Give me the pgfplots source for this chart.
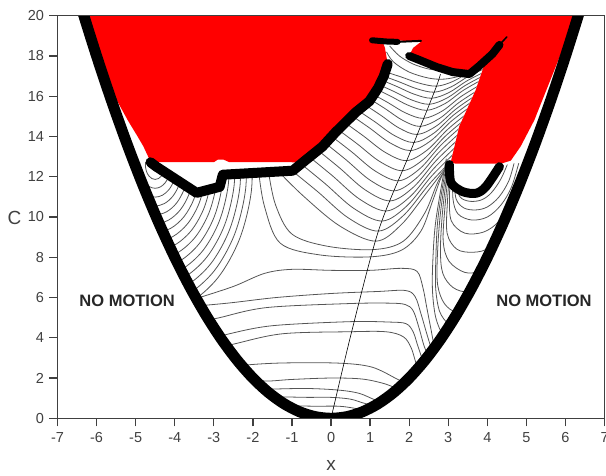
\documentclass[border=0pt]{standalone}
\usepackage{fontspec}
\setmainfont{Liberation Sans}
\usepackage{pgfplots}
\pgfplotsset{compat=1.18}
\definecolor{axgray}{HTML}{404040}
\definecolor{cgray}{HTML}{555555}
\pgfplotsset{
  cl/.style={no marks, smooth, tension=0.55, draw=cgray, line width=0.8pt},
  thk/.style={no marks, draw=black, line join=round, line cap=round},
}
\begin{document}
\begin{tikzpicture}
\begin{axis}[
  at={(0,0)}, anchor=south west,
  scale only axis, width=547.1pt, height=402.6pt,
  xmin=-7, xmax=7, ymin=0, ymax=20,
  axis on top,
  tick pos=left, tick align=outside, major tick length=8pt,
  xtick={-7,-6,-5,-4,-3,-2,-1,0,1,2,3,4,5,6,7},
  xticklabels={-7,-6,-5,-4,-3,-2,-1,0,1,2,3,4,5,6,7},
  ytick={0,2,4,6,8,10,12,14,16,18,20},
  yticklabels={0,2,4,6,8,10,12,14,16,18,20},
  ticklabel style={font=\fontsize{14.5}{16}\selectfont, text=axgray},
  xticklabel style={yshift=-3pt},
  yticklabel style={xshift=-2pt},
  axis line style={draw=axgray, line width=1.3pt},
  every tick/.style={draw=axgray, line width=1.3pt},
]
% ---------- left lobe ----------
\addplot[cl] coordinates {(-4.254,12.728) (-4.254,12.472) (-4.283,12.234) (-4.339,12.039) (-4.414,11.911) (-4.5,11.867) (-4.586,11.911) (-4.661,12.039) (-4.717,12.234) (-4.746,12.472) (-4.746,12.728)};
\addplot[cl] coordinates {(-4.106,12.804) (-4.106,12.396) (-4.154,12.014) (-4.243,11.702) (-4.363,11.498) (-4.5,11.428) (-4.637,11.498) (-4.757,11.702) (-4.846,12.014) (-4.894,12.396) (-4.894,12.804)};
\addplot[cl] coordinates {(-3.958,12.88) (-3.958,12.32) (-4.024,11.794) (-4.146,11.365) (-4.312,11.085) (-4.5,10.988) (-4.688,11.085) (-4.854,11.365) (-4.976,11.794)};
\addplot[cl] coordinates {(-3.81,12.957) (-3.81,12.243) (-3.894,11.574) (-4.05,11.029) (-4.261,10.672) (-4.5,10.549) (-4.739,10.672) (-4.95,11.029)};
\addplot[cl] coordinates {(-3.663,13.033) (-3.663,12.167) (-3.764,11.355) (-3.953,10.692) (-4.209,10.258) (-4.5,10.109) (-4.791,10.258)};
\addplot[cl] coordinates {(-3.515,13.11) (-3.515,12.09) (-3.634,11.135) (-3.857,10.356) (-4.158,9.846) (-4.5,9.67) (-4.842,9.846)};
\addplot[cl] coordinates {(-3.367,13.186) (-3.367,12.014) (-3.504,10.915) (-3.761,10.019) (-4.107,9.432) (-4.5,9.23)};
\addplot[cl] coordinates {(-3.219,13.263) (-3.219,11.937) (-3.374,10.695) (-3.664,9.682) (-4.055,9.02) (-4.5,8.791)};
\addplot[cl] coordinates {(-3.072,13.339) (-3.072,11.861) (-3.244,10.475) (-3.568,9.345) (-4.004,8.606) (-4.5,8.351)};
\addplot[cl] coordinates {(-2.924,13.416) (-2.924,11.784) (-3.114,10.256) (-3.471,9.009) (-3.953,8.193) (-4.5,7.912)};
\addplot[cl] coordinates {(-2.776,13.492) (-2.776,11.708) (-2.984,10.036) (-3.375,8.672) (-3.901,7.78) (-4.5,7.472)};
\addplot[cl] coordinates {(-2.628,13.569) (-2.628,11.631) (-2.855,9.816) (-3.278,8.336) (-3.85,7.367) (-4.5,7.033)};
\addplot[cl] coordinates {(-2.481,13.645) (-2.481,11.555) (-2.725,9.596) (-3.182,7.999) (-3.799,6.953) (-4.5,6.593)};
\addplot[cl] coordinates {(-2.333,13.722) (-2.333,11.478) (-2.595,9.377) (-3.085,7.662) (-3.748,6.541) (-4.5,6.154)};
\addplot[cl] coordinates {(-2.185,13.798) (-2.185,11.402) (-2.465,9.157) (-2.989,7.325) (-3.696,6.127) (-4.5,5.714)};
\addplot[cl] coordinates {(-2.037,13.875) (-2.037,11.325) (-2.335,8.937) (-2.892,6.989) (-3.645,5.714) (-4.5,5.275)};
% ---------- lower family ----------
\addplot[cl] coordinates {(-1.3,0.6) (-1.0,0.62) (-0.4,0.6) (0.2,0.6) (0.6,0.5) (0.9,0.38) (1.1,0.4)};
\addplot[cl] coordinates {(-1.6,1.0) (-1.3,1.06) (-0.6,1.04) (0,1.04) (0.5,0.95) (0.9,0.72) (1.3,0.6)};
\addplot[cl] coordinates {(-1.9,1.4) (-1.5,1.45) (-0.6,1.48) (0.2,1.4) (0.72,1.24) (1.15,0.9) (1.45,0.8)};
\addplot[cl] coordinates {(-2.1,1.95) (-1.65,1.85) (-1.0,1.93) (0,2.0) (0.8,1.95) (1.4,1.7) (1.75,1.4)};
\addplot[cl] coordinates {(-2.45,2.55) (-2.1,2.66) (-1.2,2.75) (0.2,2.74) (1.05,2.54) (1.74,1.9) (1.95,1.75)};
\addplot[cl] coordinates {(-2.9,3.45) (-2.42,3.72) (-1.24,4.2) (0.47,4.3) (1.4,4.3) (1.85,4.05) (2.05,3.5) (2.2,2.6) (2.3,2.5)};
\addplot[cl] coordinates {(-3.0,3.95) (-2.6,4.2) (-1.5,4.6) (0.47,4.8) (1.5,4.78) (1.92,4.7) (2.1,4.3) (2.22,3.6) (2.35,2.9) (2.45,2.8)};
\addplot[cl] coordinates {(-3.3,4.8) (-2.85,5.0) (-1.65,5.5) (0.47,5.7) (1.5,5.72) (1.9,5.65) (2.1,5.35) (2.25,4.5) (2.38,3.6) (2.5,3.1) (2.6,3.0)};
\addplot[cl] coordinates {(-3.6,5.55) (-2.6,5.73) (-1.4,6.0) (0,6.2) (1.2,6.3) (1.9,6.35) (2.15,6.05) (2.3,5.2) (2.45,4.2) (2.6,3.3) (2.7,3.2)};
\addplot[cl] coordinates {(-3.45,5.95) (-2.5,6.55) (-1.7,7.2) (-1.0,7.4) (0,7.35) (1.0,7.35) (1.8,7.45) (2.2,7.3) (2.35,6.5) (2.45,5.5) (2.55,4.5) (2.65,3.6) (2.8,3.5)};
% ---------- basin ----------
\addplot[cl] coordinates {(-1.85,12.22) (-1.7,10.5) (-1.3,8.7) (-0.3,8.12) (1.0,8.02) (1.8,8.35) (2.3,9.3) (2.6,10.8) (2.85,12.1) (3.15,12.9)};
\addplot[cl] coordinates {(-1.6,12.25) (-1.42,10.6) (-1.0,9.15) (-0.1,8.55) (1.08,8.38) (1.85,8.8) (2.4,10.2) (2.75,11.8) (3.15,12.95)};
\addplot[cl] coordinates {(-1.35,12.27) (-0.707,11.04) (0.219,9.559) (1.145,8.8) (1.794,9.614) (2.444,11.2) (3.15,13.0)};
\addplot[cl] coordinates {(-1.0,12.3) (-0.336,11.25) (0.438,9.96) (1.213,9.3) (1.866,10.10) (2.52,11.65) (3.18,13.0)};
\addplot[cl] coordinates {(-0.77,12.64) (-0.145,11.646) (0.584,10.425) (1.313,9.8) (1.945,10.559) (2.578,12.043) (3.2,13.25)};
\addplot[cl] coordinates {(-0.55,12.98) (0.04,12.042) (0.729,10.89) (1.417,10.3) (2.027,11.019) (2.637,12.426) (3.24,13.57)};
\addplot[cl] coordinates {(-0.34,13.32) (0.218,12.438) (0.869,11.354) (1.52,10.8) (2.108,11.482) (2.696,12.815) (3.28,13.9)};
\addplot[cl] coordinates {(-0.14,13.66) (0.389,12.834) (1.007,11.819) (1.624,11.3) (2.19,11.942) (2.755,13.198) (3.32,14.22)};
\addplot[cl] coordinates {(0.02,14.0) (0.532,13.23) (1.13,12.284) (1.728,11.8) (2.275,12.405) (2.821,13.588) (3.37,14.55)};
\addplot[cl] coordinates {(0.18,14.34) (0.675,13.626) (1.253,12.749) (1.831,12.3) (2.366,12.865) (2.901,13.971) (3.44,14.87)};
\addplot[cl] coordinates {(0.36,14.68) (0.832,14.022) (1.384,13.214) (1.935,12.8) (2.462,13.328) (2.989,14.36) (3.52,15.2)};
\addplot[cl] coordinates {(0.54,15.02) (0.989,14.418) (1.514,13.678) (2.038,13.3) (2.553,13.788) (3.068,14.743) (3.59,15.52)};
\addplot[cl] coordinates {(0.69,15.29) (1.119,14.734) (1.62,14.05) (2.121,13.7) (2.625,14.158) (3.128,15.052) (3.64,15.78)};
\addplot[cl] coordinates {(0.88,15.56) (1.277,15.049) (1.741,14.421) (2.204,14.1) (2.7,14.527) (3.195,15.361) (3.7,16.04)};
\addplot[cl] coordinates {(1.01,15.84) (1.393,15.371) (1.84,14.795) (2.287,14.5) (2.775,14.896) (3.262,15.67) (3.76,16.3)};
\addplot[cl] coordinates {(1.06,16.11) (1.453,15.687) (1.911,15.166) (2.37,14.9) (2.846,15.265) (3.322,15.979) (3.81,16.56)};
\addplot[cl] coordinates {(1.13,16.38) (1.527,16.002) (1.989,15.538) (2.452,15.3) (2.917,15.634) (3.382,16.288) (3.86,16.82)};
\addplot[cl] coordinates {(1.22,16.58) (1.608,16.237) (2.061,15.816) (2.514,15.6) (2.968,15.91) (3.421,16.517) (3.89,17.01)};
\addplot[cl] coordinates {(1.31,16.79) (1.69,16.479) (2.134,16.096) (2.577,15.9) (3.023,16.188) (3.468,16.752) (3.93,17.21)};
\addplot[cl] coordinates {(1.36,16.99) (1.744,16.714) (2.191,16.374) (2.639,16.2) (3.073,16.464) (3.508,16.98) (3.96,17.4)};
\addplot[cl] coordinates {(1.41,17.2) (1.797,16.955) (2.249,16.654) (2.701,16.5) (3.128,16.742) (3.554,17.215) (4.0,17.6)};
\addplot[cl] coordinates {(1.42,18.2) (1.6,17.7) (2.0,17.2) (2.5,16.9) (2.9,16.85) (3.3,17.0) (3.6,17.2)};
\addplot[cl] coordinates {(1.5,18.5) (1.75,18.0) (2.1,17.6) (2.5,17.35) (2.8,17.3)};
% ---------- right lobe ----------
\addplot[cl] coordinates {(3.2,11.7) (3.3,11.0) (3.55,10.78) (3.85,10.85) (4.1,11.2) (4.35,11.9) (4.55,12.8)};
\addplot[cl] coordinates {(3.15,11.9) (3.2,10.9) (3.4,10.45) (3.7,10.35) (4.0,10.5) (4.3,11.0) (4.55,11.8) (4.7,12.8)};
\addplot[cl] coordinates {(3.12,12.2) (3.12,10.9) (3.25,10.15) (3.6,9.85) (4.0,10.0) (4.35,10.6) (4.62,11.5) (4.82,12.8)};
\addplot[cl] coordinates {(3.08,12.45) (3.03,11.0) (3.08,9.8) (3.42,9.2) (3.9,9.25) (4.3,9.8) (4.62,10.9) (4.85,12.0)};
\addplot[cl] coordinates {(3.05,12.6) (2.98,10.8) (2.97,9.2) (3.22,8.4) (3.65,8.25) (4.05,8.5) (4.4,9.6)};
\addplot[cl] coordinates {(3.03,12.7) (2.92,10.6) (2.87,8.8) (3.02,7.8) (3.42,7.25) (3.8,7.35) (4.1,8.2)};
\addplot[cl] coordinates {(3.01,12.75) (2.86,10.4) (2.8,8.4) (2.86,7.2) (3.12,6.5) (3.5,6.3) (3.8,6.9)};
\addplot[cl] coordinates {(2.99,12.8) (2.8,10.2) (2.72,8.0) (2.73,6.6) (2.9,5.7) (3.2,5.3) (3.5,5.8)};
\addplot[cl] coordinates {(2.97,12.85) (2.74,10.0) (2.68,7.8) (2.68,6.4) (2.78,5.3) (3.0,4.7) (3.15,4.8)};
\addplot[cl] coordinates {(2.95,12.9) (2.68,9.8) (2.6,7.6) (2.6,6.2) (2.68,5.0) (2.85,4.2) (3.0,4.3)};
% ---------- thin straight line ----------
\addplot[no marks, smooth, draw=black, line width=0.6pt] coordinates {(0,0) (0.54,4.4) (1.22,9.35) (2.0,13.1) (2.66,16.3) (2.8,17.1)};
% ---------- upper white mask ----------
\addplot[fill=white, draw=none] coordinates {(-7.5,22) (-6.63,22) (-6.4,20.48) (-6.0,18) (-5.6,15.68) (-5.2,13.52) (-5.04,12.72) (-4.62,12.72) (-4.47,12.5) (-3.44,11.2) (-2.85,11.5) (-2.77,12.1) (-0.98,12.3) (-0.73,12.7) (-0.22,13.5) (0.11,14.2) (0.37,14.7) (0.63,15.2) (0.98,15.75) (1.2,16.4) (1.35,17.0) (1.45,17.6) (1.38,18.4) (1.5,18.6) (2.1,18.6) (2.0,18.0) (2.26,17.8) (2.7,17.45) (3.11,17.2) (3.54,17.1) (3.8,17.45) (3.92,17.55) (3.70,16.3) (3.28,14.5) (3.06,12.7) (3.03,12.6) (3.07,11.7) (3.37,11.26) (3.71,11.18) (3.96,11.5) (4.31,12.5) (4.6,12.65) (5.04,12.72) (5.2,13.52) (5.6,15.68) (6.0,18) (6.4,20.48) (6.63,22) (7.5,22)};
% ---------- red region ----------
\addplot[fill=red, draw=none] coordinates {(-6.33,20.6) (-6.3,20.0) (-6.0,18.3) (-5.54,16.0) (-5.2,14.8) (-4.95,14.0) (-4.8,13.5) (-4.68,13.0) (-4.62,12.72) (-3.0,12.72) (-2.9,12.85) (-2.75,12.85) (-2.6,12.72) (-1.0,12.72) (-0.73,12.7) (-0.22,13.5) (0.11,14.2) (0.37,14.7) (0.63,15.2) (0.98,15.75) (1.2,16.4) (1.35,17.0) (1.45,17.6) (1.38,18.4) (1.3,18.8) (1.9,18.75) (2.3,18.7) (2.1,18.4) (2.0,18.0) (2.26,17.8) (2.7,17.45) (3.11,17.2) (3.54,17.1) (3.8,17.45) (3.92,17.55) (3.70,16.3) (3.28,14.5) (3.06,12.7) (3.2,12.65) (4.35,12.65) (4.6,12.8) (4.85,13.5) (5.2,14.8) (5.55,16.5) (5.9,18.2) (6.25,20.0) (6.3,20.6)};
% ---------- outside parabola masks ----------
\addplot[fill=white, draw=none] coordinates {(0,-1) (0,0) (-0.4,0.08) (-0.8,0.32) (-1.2,0.72) (-1.6,1.28) (-2.0,2) (-2.4,2.88) (-2.8,3.92) (-3.2,5.12) (-3.6,6.48) (-4.0,8) (-4.4,9.68) (-4.8,11.52) (-5.2,13.52) (-5.6,15.68) (-6.0,18) (-6.4,20.48) (-6.8,23.12) (-7.5,23.12) (-7.5,-1)};
\addplot[fill=white, draw=none] coordinates {(0,-1) (0,0) (0.4,0.08) (0.8,0.32) (1.2,0.72) (1.6,1.28) (2.0,2) (2.4,2.88) (2.8,3.92) (3.2,5.12) (3.6,6.48) (4.0,8) (4.4,9.68) (4.8,11.52) (5.2,13.52) (5.6,15.68) (6.0,18) (6.4,20.48) (6.8,23.12) (7.5,23.12) (7.5,-1)};
% ---------- thick curves ----------
\addplot[thk, smooth, line width=11pt] coordinates {(-6.8,23.12) (-6.4,20.48) (-6.0,18) (-5.6,15.68) (-5.2,13.52) (-4.8,11.52) (-4.4,9.68) (-4.0,8) (-3.6,6.48) (-3.2,5.12) (-2.8,3.92) (-2.4,2.88) (-2.0,2) (-1.6,1.28) (-1.2,0.72) (-0.8,0.32) (-0.4,0.08) (0,0) (0.4,0.08) (0.8,0.32) (1.2,0.72) (1.6,1.28) (2.0,2) (2.4,2.88) (2.8,3.92) (3.2,5.12) (3.6,6.48) (4.0,8) (4.4,9.68) (4.8,11.52) (5.2,13.52) (5.6,15.68) (6.0,18) (6.4,20.48) (6.8,23.12)};
\addplot[thk, line width=10pt] coordinates {(-4.62,12.72) (-4.47,12.5) (-3.44,11.2) (-2.85,11.5) (-2.77,12.1) (-0.98,12.3) (-0.73,12.7) (-0.22,13.5) (0.11,14.2) (0.37,14.7) (0.63,15.2) (0.98,15.75) (1.2,16.4) (1.35,17.0) (1.45,17.6)};
\addplot[thk, smooth, line width=9pt] coordinates {(3.03,12.6) (3.07,11.7) (3.37,11.26) (3.71,11.18) (3.96,11.5) (4.31,12.5)};
\addplot[thk, line width=8pt] coordinates {(2.0,18.0) (2.26,17.8) (2.7,17.45) (3.11,17.2) (3.54,17.1) (3.79,17.5) (4.13,18.1) (4.31,18.55)};
\addplot[thk, line width=1.5pt] coordinates {(4.31,18.55) (4.5,18.95)};
\addplot[thk, line width=6pt] coordinates {(1.05,18.78) (1.4,18.72) (1.7,18.7)};
\addplot[thk, line width=2pt] coordinates {(1.7,18.7) (2.3,18.75)};
\end{axis}
\node[font=\fontsize{16.5}{18}\selectfont\bfseries, text=black!85] at (69.6pt,117.4pt) {NO MOTION};
\node[font=\fontsize{16.5}{18}\selectfont\bfseries, text=black!85] at (486.5pt,117.4pt) {NO MOTION};
\node[font=\fontsize{19}{21}\selectfont, text=axgray, inner sep=0pt] at (-43pt,200.3pt) {C};
\node[font=\fontsize{19}{21}\selectfont, text=axgray, inner sep=0pt] at (273.5pt,-47.5pt) {x};
\pgfresetboundingbox
\useasboundingbox (-57.5pt,-56.7pt) rectangle (548.5pt,418.3pt);
\end{tikzpicture}
\end{document}
